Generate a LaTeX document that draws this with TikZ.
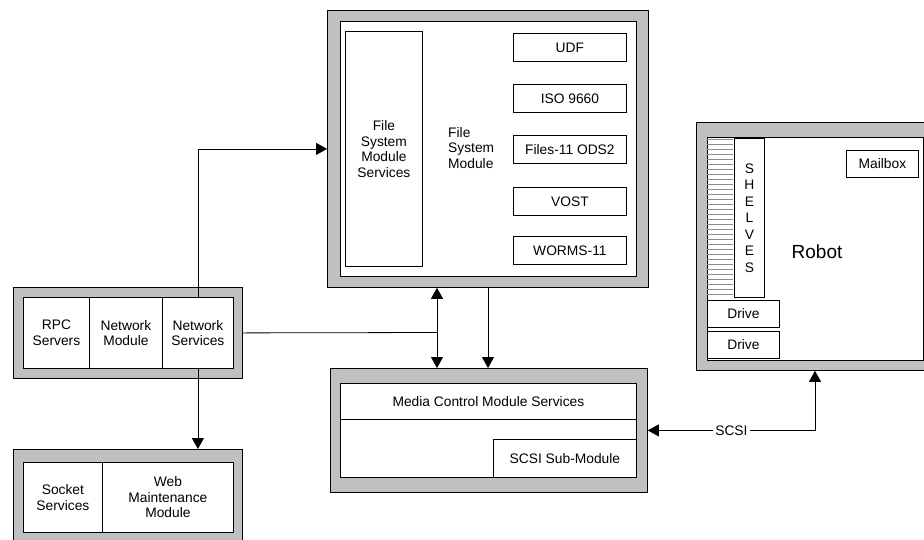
\documentclass[tikz,border=0pt]{standalone}
\usepackage{fontspec}
\setmainfont{Liberation Sans}
\usetikzlibrary{arrows.meta}
\definecolor{framegray}{HTML}{C0C0C0}
\definecolor{shelfgray}{HTML}{8C8C8C}
\newcommand{\lbl}{\fontsize{13.8}{15.6}\selectfont}
\begin{document}
\begin{tikzpicture}[x=1pt,y=-1pt,
  frame/.style={draw=black, fill=framegray, line width=0.8pt, anchor=north west, inner sep=0pt},
  cell/.style={draw=black, fill=white, line width=0.8pt, anchor=north west, inner sep=0pt, align=center, font=\lbl},
  plain/.style={inner sep=0pt, font=\lbl},
  link/.style={draw=black, line width=0.8pt},
  tip/.style={-{Triangle[length=11pt,width=12pt]}},
  tips/.style={{Triangle[length=11pt,width=12pt]}-{Triangle[length=11pt,width=12pt]}}]
\useasboundingbox (0,0) rectangle (924,539);
\clip (0,0) rectangle (924,539);
\fill[white] (0,0) rectangle (924,539);

% File system module
\node[frame, minimum width=321pt, minimum height=277pt] (fsmOut) at (327,10) {};
\node[cell, minimum width=296pt, minimum height=255pt] (fsmIn) at (340,21) {};
\node[cell, minimum width=77pt, minimum height=235pt] (fsms) at (345,31) {File\\System\\Module\\Services};
\node[plain, anchor=west, align=left] (fsmLabel) at (448,148) {File\\System\\Module};
\node[cell, minimum width=113pt, minimum height=28pt] (udf) at (513,33) {UDF};
\node[cell, minimum width=113pt, minimum height=28pt] (iso) at (513,84) {ISO 9660};
\node[cell, minimum width=113pt, minimum height=28pt] (ods) at (513,135) {Files-11 ODS2};
\node[cell, minimum width=113pt, minimum height=28pt] (vost) at (513,187) {VOST};
\node[cell, minimum width=113pt, minimum height=28pt] (worms) at (513,236) {WORMS-11};

% Network module
\node[frame, minimum width=229pt, minimum height=91pt] (netOut) at (13,287) {};
\node[cell, minimum width=66pt, minimum height=71pt] (rpc) at (23,297) {RPC\\Servers};
\node[cell, minimum width=73pt, minimum height=71pt] (netmod) at (89,297) {Network\\Module};
\node[cell, minimum width=71pt, minimum height=71pt] (netsvc) at (162,297) {Network\\Services};

% Web maintenance module
\node[frame, minimum width=229pt, minimum height=100pt] (webOut) at (13,449) {};
\node[cell, minimum width=79pt, minimum height=70pt] (sock) at (23,462) {Socket\\Services};
\node[cell, minimum width=131pt, minimum height=70pt] (web) at (102,462) {Web\\Maintenance\\Module};

% Media control module
\node[frame, minimum width=317pt, minimum height=124pt] (mcmOut) at (330,368) {};
\node[cell, minimum width=296pt, minimum height=94pt] (mcmIn) at (340,383) {};
\node[cell, minimum width=296pt, minimum height=36pt] (mcms) at (340,383) {Media Control Module Services};
\node[cell, minimum width=143pt, minimum height=38pt] (scsisub) at (493,439) {SCSI Sub-Module};

% Robot
\node[frame, minimum width=245pt, minimum height=248pt] (robotOut) at (696,122) {};
\node[cell, minimum width=216pt, minimum height=223pt] (robotIn) at (707,137) {};
\foreach \k in {0,...,31}
  \draw[shelfgray, line width=0.8pt] (707,139+\k*5) -- (733,139+\k*5);
\node[cell, minimum width=30pt, minimum height=159pt, font=\fontsize{13.8}{16.5}\selectfont] (shelves) at (734,138) {S\\H\\E\\L\\V\\E\\S};
\node[cell, minimum width=72pt, minimum height=27pt] (drive1) at (707,300) {Drive};
\node[cell, minimum width=72pt, minimum height=27pt] (drive2) at (707,331) {Drive};
\node[cell, minimum width=72pt, minimum height=27pt] (mailbox) at (846,150) {Mailbox};
\node[plain, font=\fontsize{19}{22}\selectfont] (robotLabel) at (817,252) {Robot};

% Connectors
\coordinate (join) at (437,332.5);
\coordinate (down) at (488,332.5);
\coordinate (scsiRise) at (815,430);
\draw[link, tip] (netsvc.north) |- (fsmOut.west);
\draw[link, tip] (netsvc.south) -- (netsvc.south |- webOut.north);
\draw[link] (netOut.east) -- (join);
\draw[link, tips] (join |- fsmOut.south) -- (join |- mcmOut.north);
\draw[link, tip] (down |- fsmOut.south) -- (down |- mcmOut.north);
\draw[link, tips] (scsiRise |- robotOut.south) |- (mcmOut.east)
  node[pos=0.75, fill=white, inner sep=2pt, font=\lbl] (scsiLabel) {SCSI};
\end{tikzpicture}
\end{document}
